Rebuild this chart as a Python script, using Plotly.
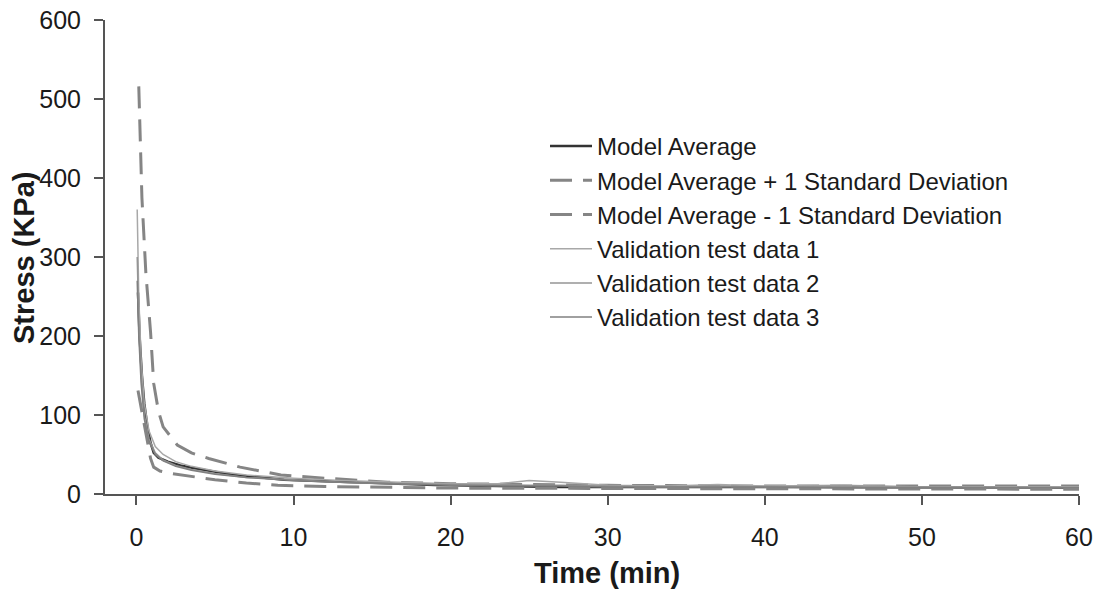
import plotly.graph_objects as go

# ---- data ----
t_avg = [0.1, 0.2, 0.35, 0.5, 0.7, 0.9, 1.1, 1.4, 2, 2.8, 3.6, 5, 6.2, 8, 9.4, 12, 15, 19, 23, 27, 32, 40, 50, 60]
model_avg = [255, 200, 150, 115, 85, 65, 52, 46, 41, 36, 33, 28, 24, 21, 18, 16, 14, 11.5, 10, 9, 9, 8.5, 8, 8]

t_plus = [0.15, 0.35, 0.6, 0.9, 1.1, 1.4, 1.7, 2.6, 3.5, 4.6, 6.6, 7.7, 9.2, 12, 16, 20, 30, 40, 50, 60]
plus_sd = [516, 375, 280, 205, 140, 105, 85, 62, 52, 45, 34, 30, 24, 20, 15, 13, 11, 10, 10, 10]

t_minus = [0.1, 0.4, 0.7, 0.9, 1.1, 1.5, 2.2, 3.5, 5, 7, 9, 12, 16, 20, 30, 40, 50, 60]
minus_sd = [131, 98, 64, 45, 34, 29, 26, 22, 18, 14, 11, 9.5, 8.5, 7.5, 7, 6.5, 6, 6]

t_val = [0.05, 0.15, 0.3, 0.5, 0.8, 1.2, 1.7, 2.5, 3.5, 5, 7, 10, 13, 16, 20, 23, 25, 27, 30, 34, 37, 40, 45, 50, 55, 60]
val1 = [360, 250, 170, 115, 80, 60, 50, 41, 35, 29, 24, 20, 17, 15, 13, 13, 17, 15, 11, 10, 12, 10, 11, 9, 9, 9]
val2 = [300, 220, 150, 100, 70, 52, 43, 36, 31, 26, 21, 18, 15, 13, 12, 11, 11, 11, 10, 9, 10, 9, 10, 9, 8, 8]
val3 = [270, 200, 140, 95, 66, 50, 42, 35, 30, 25, 21, 17, 15, 13, 11, 10, 10, 10, 9, 9, 9, 9, 8, 8, 8, 8]

x_ticks = [0, 10, 20, 30, 40, 50, 60]
y_ticks = [0, 100, 200, 300, 400, 500, 600]

FONT = "Liberation Sans, Arial, sans-serif"

fig = go.Figure()
fig.add_trace(go.Scatter(x=t_avg, y=model_avg, mode="lines", name="Model Average",
                         line=dict(color="#333333", width=2.5), legendgroup="a"))
fig.add_trace(go.Scatter(x=t_plus, y=plus_sd, mode="lines", name="Model Average + 1 Standard Deviation",
                         line=dict(color="#858585", width=3, dash="22px,11px"), legendgroup="b"))
fig.add_trace(go.Scatter(x=t_minus, y=minus_sd, mode="lines", name="Model Average - 1 Standard Deviation",
                         line=dict(color="#858585", width=3, dash="22px,11px"), legendgroup="c"))
fig.add_trace(go.Scatter(x=t_val, y=val1, mode="lines", name="Validation test data 1",
                         line=dict(color="#a8a8a8", width=1.5), legendgroup="d"))
fig.add_trace(go.Scatter(x=t_val, y=val2, mode="lines", name="Validation test data 2",
                         line=dict(color="#959595", width=1.5), legendgroup="e"))
fig.add_trace(go.Scatter(x=t_val, y=val3, mode="lines", name="Validation test data 3",
                         line=dict(color="#808080", width=1.5), legendgroup="f"))

fig.update_layout(
    width=1101, height=589,
    margin=dict(l=105, r=22, t=20, b=95),
    paper_bgcolor="white", plot_bgcolor="white",
    font=dict(family=FONT, size=25, color="#1a1a1a"),
    showlegend=True,
    legend=dict(x=(545 - 105) / 974, xanchor="left", y=(494 - 124) / 474, yanchor="top",
                font=dict(family=FONT, size=24, color="#1a1a1a"),
                bgcolor="rgba(0,0,0,0)", traceorder="grouped", tracegroupgap=0,
                itemwidth=42),
    xaxis=dict(range=[-2, 60], tickvals=x_ticks, ticktext=[str(v) for v in x_ticks],
               showgrid=False, zeroline=False, showline=True, linecolor="#555555", linewidth=2,
               ticks="outside", ticklen=9, tickwidth=1.5, tickcolor="#555555",
               ticklabelstandoff=11, tickfont=dict(size=25), automargin=False),
    yaxis=dict(range=[0, 600], tickvals=y_ticks, ticktext=[str(v) for v in y_ticks],
               showgrid=False, zeroline=False, showline=True, linecolor="#555555", linewidth=2,
               ticks="outside", ticklen=9, tickwidth=1.5, tickcolor="#555555",
               ticklabelstandoff=8, tickfont=dict(size=25), automargin=False),
    annotations=[
        dict(text="<b>Time (min)</b>", xref="paper", yref="paper",
             x=(607 - 105) / 974, y=(494 - 573) / 474, xanchor="center", yanchor="middle",
             showarrow=False, font=dict(size=29, family=FONT)),
        dict(text="<b>Stress (KPa)</b>", xref="paper", yref="paper", textangle=-90,
             x=(24 - 105) / 974, y=(494 - 258) / 474, xanchor="center", yanchor="middle",
             showarrow=False, font=dict(size=29, family=FONT)),
    ],
)

fig.write_html("out.html")
